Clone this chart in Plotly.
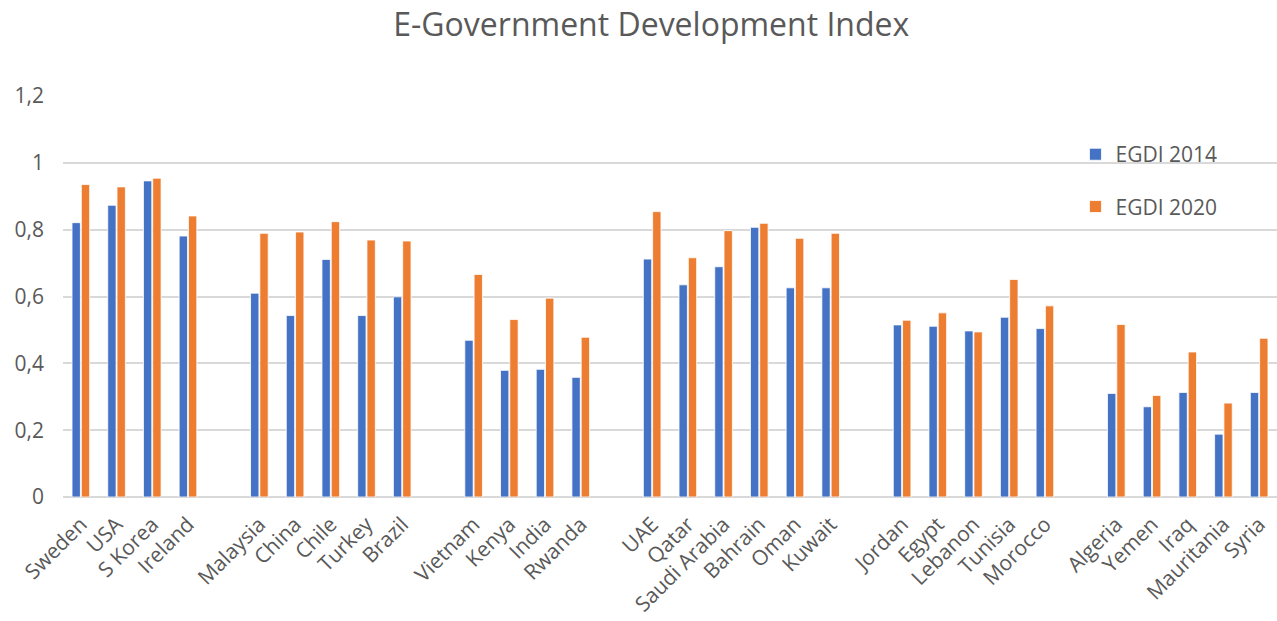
import plotly.graph_objects as go

# Country groups; blank entries keep a spacer slot between regions
groups = [
    ["Sweden", "USA", "S Korea", "Ireland"],
    ["Malaysia", "China", "Chile", "Turkey", "Brazil"],
    ["Vietnam", "Kenya", "India", "Rwanda"],
    ["UAE", "Qatar", "Saudi Arabia", "Bahrain", "Oman", "Kuwait"],
    ["Jordan", "Egypt", "Lebanon", "Tunisia", "Morocco"],
    ["Algeria", "Yemen", "Iraq", "Mauritania", "Syria"],
]

egdi_2014 = {
    "Sweden": 0.821, "USA": 0.873, "S Korea": 0.946, "Ireland": 0.781,
    "Malaysia": 0.610, "China": 0.543, "Chile": 0.711, "Turkey": 0.543, "Brazil": 0.599,
    "Vietnam": 0.469, "Kenya": 0.379, "India": 0.382, "Rwanda": 0.358,
    "UAE": 0.712, "Qatar": 0.635, "Saudi Arabia": 0.689, "Bahrain": 0.807,
    "Oman": 0.626, "Kuwait": 0.626,
    "Jordan": 0.515, "Egypt": 0.511, "Lebanon": 0.497, "Tunisia": 0.538, "Morocco": 0.504,
    "Algeria": 0.310, "Yemen": 0.270, "Iraq": 0.313, "Mauritania": 0.188, "Syria": 0.313,
}

egdi_2020 = {
    "Sweden": 0.935, "USA": 0.928, "S Korea": 0.954, "Ireland": 0.841,
    "Malaysia": 0.789, "China": 0.793, "Chile": 0.824, "Turkey": 0.769, "Brazil": 0.766,
    "Vietnam": 0.666, "Kenya": 0.531, "India": 0.595, "Rwanda": 0.478,
    "UAE": 0.854, "Qatar": 0.716, "Saudi Arabia": 0.797, "Bahrain": 0.819,
    "Oman": 0.774, "Kuwait": 0.789,
    "Jordan": 0.529, "Egypt": 0.551, "Lebanon": 0.494, "Tunisia": 0.651, "Morocco": 0.572,
    "Algeria": 0.516, "Yemen": 0.304, "Iraq": 0.434, "Mauritania": 0.281, "Syria": 0.475,
}

categories = []
for i, g in enumerate(groups):
    if i > 0:
        categories.append(" " * i)  # unique empty slot
    categories.extend(g)

y14 = [egdi_2014.get(c) for c in categories]
y20 = [egdi_2020.get(c) for c in categories]

BLUE = "#4472C4"
ORANGE = "#ED7D31"
GREY = "#595959"
FONT = "Open Sans"

fig = go.Figure()
fig.add_trace(go.Bar(
    x=categories, y=y14, name="EGDI 2014", legendgroup="a",
    marker=dict(color=BLUE, line=dict(color="white", width=0.8)),
))
fig.add_trace(go.Bar(
    x=categories, y=y20, name="EGDI 2020", legendgroup="b",
    marker=dict(color=ORANGE, line=dict(color="white", width=0.8)),
))

fig.update_layout(
    width=1277, height=621,
    margin=dict(l=63, r=0, t=96, b=124),
    paper_bgcolor="white", plot_bgcolor="white",
    separators=", ",
    barmode="group", bargap=0.48, bargroupgap=0.1,
    font=dict(family=FONT, color=GREY, size=20),
    title=dict(
        text="E-Government Development Index",
        x=0.51, xanchor="center", y=0.96, yanchor="middle",
        font=dict(family=FONT, size=32, color=GREY),
    ),
    legend=dict(
        x=0.834, y=0.905, xanchor="left", yanchor="top",
        font=dict(family=FONT, size=21, color=GREY),
        tracegroupgap=22, bgcolor="rgba(0,0,0,0)",
    ),
    xaxis=dict(
        type="category", tickangle=-45, showgrid=False,
        showline=False, ticks="", tickfont=dict(size=21),
        ticklabelstandoff=10,
    ),
    yaxis=dict(
        range=[0, 1.2], dtick=0.2, tick0=0,
        showgrid=True, gridcolor="#D9D9D9", gridwidth=1.5,
        zeroline=True, zerolinecolor="#D9D9D9", zerolinewidth=1.5,
        showline=False, ticks="", ticklabelstandoff=18,
        tickfont=dict(size=21),
    ),
)

fig.write_html("out.html")
